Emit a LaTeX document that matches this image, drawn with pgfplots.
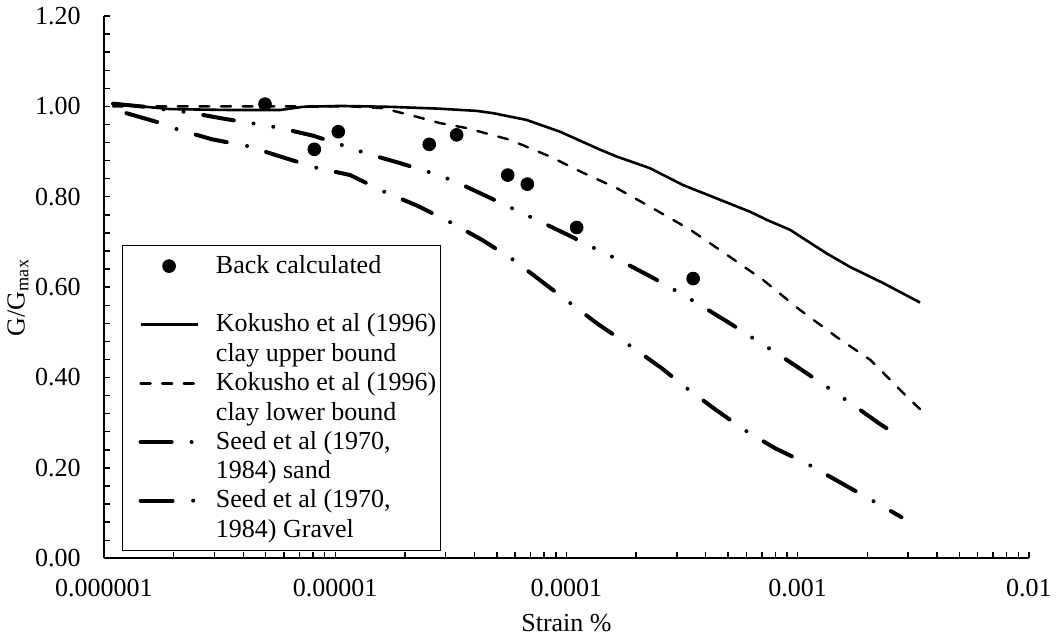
\documentclass[border=0pt]{standalone}
\usepackage{fontspec}
\setmainfont{Liberation Serif}
\usepackage{pgfplots}
\pgfplotsset{compat=1.18}
\pgfplotsset{
  lineleg/.style={legend image code/.code={\path (0pt,0pt); \draw[##1] (8pt,7.2pt) -- (36.5pt,7.2pt);}},
  markleg/.style={legend image code/.code={\path (0pt,0pt) (36.5pt,0pt); \draw[##1] plot coordinates {(22.25pt,7.2pt)};}},
}

% G/Gmax degradation data (strain in %)
\pgfplotstableread{
x y
4.97e-6 1.005
8.12e-6 0.905
1.031e-5 0.944
2.55e-5 0.916
3.35e-5 0.937
5.57e-5 0.848
6.77e-5 0.828
1.107e-4 0.732
3.53e-4 0.619
}\backcalc

\pgfplotstableread{
x y
1.094e-6 1.006
1.93e-6 0.994
3.5e-6 0.992
5.77e-6 0.992
7.25e-6 0.999
1.05e-5 1.001
1.73e-5 0.999
2.8e-5 0.995
4.09e-5 0.990
4.81e-5 0.985
6.72e-5 0.970
9.37e-5 0.944
1.40e-4 0.904
1.65e-4 0.889
2.30e-4 0.863
3.19e-4 0.826
6.21e-4 0.767
7.34e-4 0.749
9.25e-4 0.727
1.33e-3 0.675
1.68e-3 0.645
2.34e-3 0.609
3.38e-3 0.566
}\kokushoupper

\pgfplotstableread{
x y
1.094e-6 1.000
5e-6 1.000
1.16e-5 1.000
1.61e-5 0.996
2.25e-5 0.977
2.84e-5 0.963
3.70e-5 0.952
5.70e-5 0.926
8.49e-5 0.889
1.18e-4 0.853
1.65e-4 0.819
2.30e-4 0.778
3.43e-4 0.727
5.09e-4 0.667
7.08e-4 0.616
1.02e-3 0.550
1.47e-3 0.490
2.06e-3 0.439
2.51e-3 0.395
2.96e-3 0.358
3.38e-3 0.330
}\kokusholower

\pgfplotstableread{
x y
1.094e-6 1.006
1.58e-6 0.998
1.89e-6 0.992
2.31e-6 0.987
3.27e-6 0.973
4.69e-6 0.960
5.67e-6 0.953
8.04e-6 0.935
1.12e-5 0.911
1.36e-5 0.896
1.92e-5 0.874
2.72e-5 0.850
3.26e-5 0.835
4.48e-5 0.802
6.25e-5 0.767
7.43e-5 0.749
1.03e-4 0.714
1.42e-4 0.678
1.69e-4 0.660
2.32e-4 0.623
3.17e-4 0.584
3.74e-4 0.562
5.09e-4 0.520
6.87e-4 0.477
8.11e-4 0.454
1.09e-3 0.410
1.47e-3 0.365
1.72e-3 0.341
2.24e-3 0.299
2.52e-3 0.282
}\seedsand

\pgfplotstableread{
x y
1.25e-6 0.985
1.76e-6 0.963
2.08e-6 0.949
2.94e-6 0.927
4.18e-6 0.912
5.88e-6 0.888
8.32e-6 0.864
1.16e-5 0.848
1.63e-5 0.811
2.27e-5 0.780
3.13e-5 0.744
4.30e-5 0.705
5.83e-5 0.662
7.71e-5 0.615
1.03e-4 0.566
1.37e-4 0.518
1.84e-4 0.474
2.56e-4 0.422
3.28e-4 0.378
4.36e-4 0.331
5.88e-4 0.284
7.95e-4 0.244
1.10e-3 0.209
1.50e-3 0.170
2.05e-3 0.131
2.81e-3 0.091
}\seedgravel

\begin{document}
\begin{tikzpicture}
\path[use as bounding box] (-52pt,-39.85pt) rectangle (476.5pt,279.15pt);
\begin{axis}[
  at={(0pt,0pt)}, anchor=south west,
  scale only axis, width=462.5pt, height=271.15pt,
  xmode=log, log basis x=10,
  xmin=1e-6, xmax=1e-2, ymin=0, ymax=1.2,
  axis lines=left,
  axis line style={-, line width=1pt},
  tick align=inside,
  major tick length=3pt, minor tick length=3pt,
  every tick/.style={black, line width=0.7pt},
  xtick={1e-6,1e-5,1e-4,1e-3,1e-2},
  xticklabels={0.000001,0.00001,0.0001,0.001,0.01},
  minor xtick={2e-6,3e-6,4e-6,5e-6,6e-6,7e-6,8e-6,9e-6,
               2e-5,3e-5,4e-5,5e-5,6e-5,7e-5,8e-5,9e-5,
               2e-4,3e-4,4e-4,5e-4,6e-4,7e-4,8e-4,9e-4,
               2e-3,3e-3,4e-3,5e-3,6e-3,7e-3,8e-3,9e-3},
  ytick={0,0.2,0.4,0.6,0.8,1.0,1.2},
  minor y tick num=4,
  /pgf/number format/assume math mode=true,
  y tick label style={/pgf/number format/fixed, /pgf/number format/fixed zerofill,
    /pgf/number format/precision=2, inner xsep=11.5pt},
  font=\fontsize{13}{15}\selectfont,
  tick label style={font=\fontsize{13}{15}\selectfont},
  xticklabel style={yshift=-7pt},
  xlabel={Strain \%},
  ylabel={G/G\textsubscript{max}},
  every axis x label/.style={at={(axis description cs:0.5,-0.1185)}, anchor=center},
  every axis y label/.style={at={(axis description cs:-0.093,0.481)}, anchor=center, rotate=90},
  legend cell align=left,
  legend style={at={(axis description cs:0.01946,0.01346)}, anchor=south west,
    draw=black, line width=0.6pt, font=\fontsize{13}{14.8}\selectfont,
    cells={align=left}, row sep=0pt, column sep=6.2pt, inner xsep=0pt, inner ysep=3pt},
  lineleg,
]
\addplot[only marks, mark=*, mark size=3.2pt, mark options={fill=black, draw=black, line width=0.4pt}, markleg]
  table[x=x, y=y] {\backcalc};
\addlegendentry{Back calculated\\\mbox{}}

\addplot[black, line width=1.3pt, line join=round] table[x=x, y=y] {\kokushoupper};
\addlegendentry{Kokusho et al (1996)\\clay upper bound}

\addplot[black, line width=1.2pt, line cap=round, dash pattern=on 5pt off 5.8pt] table[x=x, y=y] {\kokusholower};
\addlegendentry{Kokusho et al (1996)\\clay lower bound}

\addplot[black, line width=2pt, line cap=round,
  dash pattern=on 15.5pt off 10pt on 0pt off 10pt on 0pt off 10pt] table[x=x, y=y] {\seedsand};
\addlegendentry{Seed et al (1970,\\1984) sand}

\addplot[black, line width=2pt, line cap=round,
  dash pattern=on 16pt off 10.3pt on 0pt off 10pt] table[x=x, y=y] {\seedgravel};
\addlegendentry{Seed et al (1970,\\1984) Gravel}
\end{axis}
\end{tikzpicture}
\end{document}
